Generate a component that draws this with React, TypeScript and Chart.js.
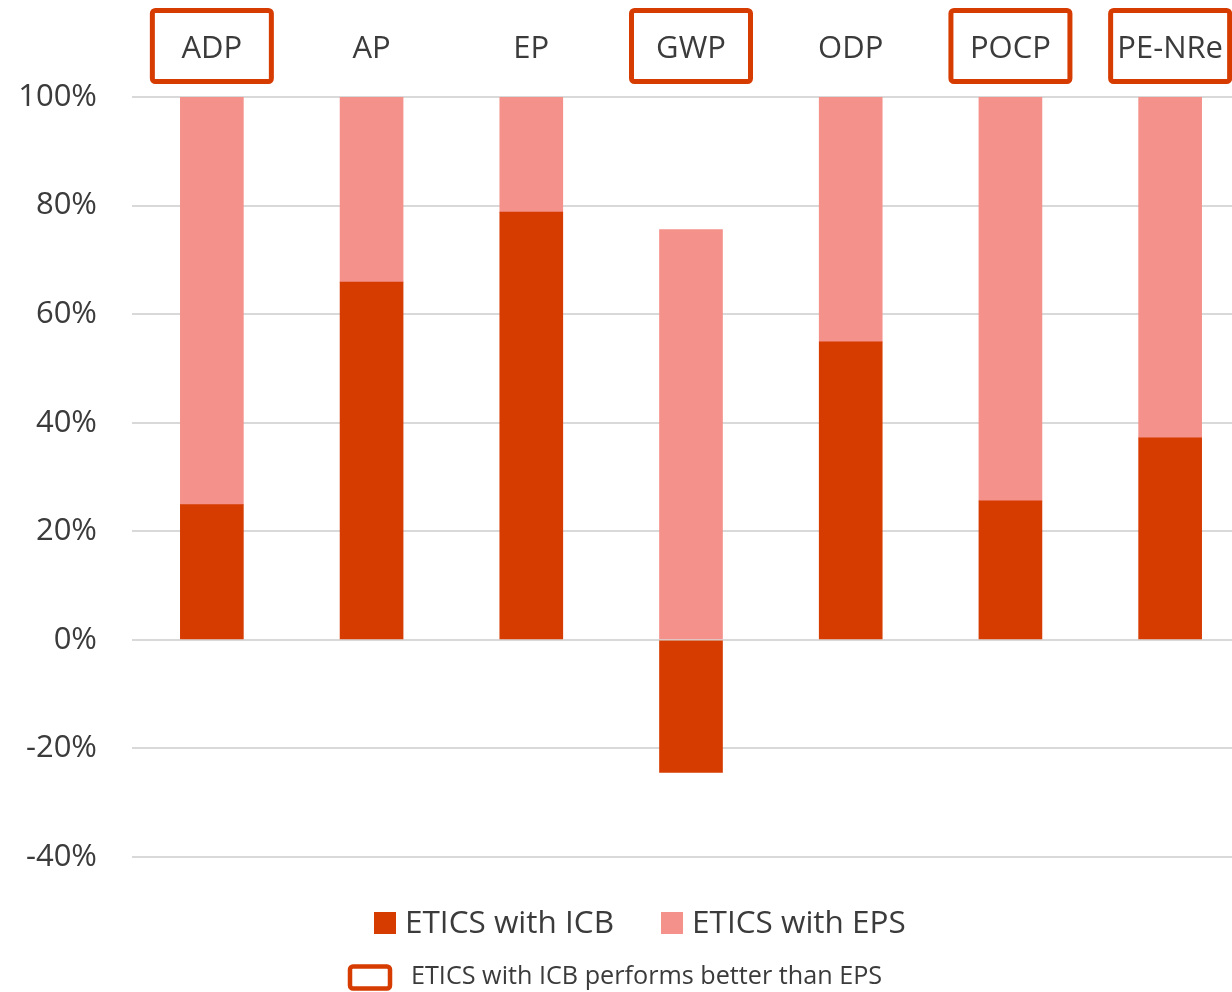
import React, { useEffect, useRef } from "react";
import { Chart, registerables } from "chart.js";

Chart.register(...registerables);

const categories = ["ADP", "AP", "EP", "GWP", "ODP", "POCP", "PE-NRe"];
const icbValues = [24.9, 65.9, 78.8, -24.4, 54.9, 25.6, 37.2];
const epsValues = [75.1, 34.1, 21.2, 75.6, 45.1, 74.4, 62.8];
const highlighted = ["ADP", "GWP", "POCP", "PE-NRe"];
const seriesNames = ["ETICS with ICB", "ETICS with EPS"];
const noteText = "ETICS with ICB performs better than EPS";

const DARK = "#D63B00";
const LIGHT = "#F4918A";
const TEXT = "#3B3B3B";
const FONT = "'Open Sans', 'Noto Sans', sans-serif";

const decorPlugin = {
  id: "decor",
  afterDraw(chart: any) {
    const ctx = chart.ctx;
    const xs = chart.scales.x;
    ctx.save();
    // highlight boxes around category labels
    ctx.strokeStyle = DARK;
    ctx.lineWidth = 5;
    categories.forEach((c, i) => {
      if (!highlighted.includes(c)) return;
      const x = xs.getPixelForValue(i);
      ctx.beginPath();
      (ctx as any).roundRect(x - 59.5, 10.5, 119, 71, 3);
      ctx.stroke();
    });
    // legend
    ctx.font = `31.5px ${FONT}`;
    ctx.textBaseline = "middle";
    ctx.fillStyle = TEXT;
    const colors = [DARK, LIGHT];
    let x = 374;
    const y = 923;
    seriesNames.forEach((name, i) => {
      ctx.fillStyle = colors[i];
      ctx.fillRect(x, y - 11, 22, 22);
      ctx.fillStyle = TEXT;
      ctx.fillText(name, x + 31, y + 1);
      x += 31 + ctx.measureText(name).width + 47;
    });
    // note line
    ctx.strokeStyle = DARK;
    ctx.lineWidth = 4.5;
    ctx.beginPath();
    (ctx as any).roundRect(350, 966.5, 40, 22, 3);
    ctx.stroke();
    ctx.font = `25.2px ${FONT}`;
    ctx.fillStyle = TEXT;
    ctx.fillText(noteText, 411, 977);
    ctx.restore();
  },
};

export default function App() {
  const ref = useRef<HTMLCanvasElement | null>(null);
  useEffect(() => {
    if (!ref.current) return;
    const chart = new Chart(ref.current, {
      type: "bar",
      data: {
        labels: categories,
        datasets: [
          { label: seriesNames[0], data: icbValues, backgroundColor: DARK, barThickness: 63 },
          { label: seriesNames[1], data: epsValues, backgroundColor: LIGHT, barThickness: 63 },
        ],
      },
      options: {
        animation: false,
        responsive: false,
        maintainAspectRatio: false,
        layout: { padding: { top: 0, bottom: 135, left: 0, right: 0 } },
        plugins: { legend: { display: false }, tooltip: { enabled: false } },
        scales: {
          x: {
            position: "top",
            stacked: true,
            grid: { display: false },
            border: { display: false },
            ticks: { font: { size: 31, family: FONT }, color: TEXT, padding: 21 },
            afterFit: (s: any) => { s.height = 97; },
          },
          y: {
            stacked: true,
            min: -40,
            max: 100,
            ticks: {
              stepSize: 20,
              font: { size: 31, family: FONT },
              color: TEXT,
              padding: 35,
              callback: (v: any) => `${v}%`,
            },
            grid: { color: "#D9D9D9", lineWidth: 2, drawTicks: false },
            border: { display: false },
            afterFit: (s: any) => { s.width = 132; },
          },
        },
      },
      plugins: [decorPlugin],
    });
    return () => chart.destroy();
  }, []);
  return (
    <div style={{ position: "fixed", left: 0, top: 0, width: 1232, height: 992, overflow: "hidden", background: "#fff" }}>
      <div style={{ width: 1250, height: 992 }}>
        <canvas ref={ref} width={1250} height={992} style={{ width: 1250, height: 992, display: "block" }} />
      </div>
    </div>
  );
}
